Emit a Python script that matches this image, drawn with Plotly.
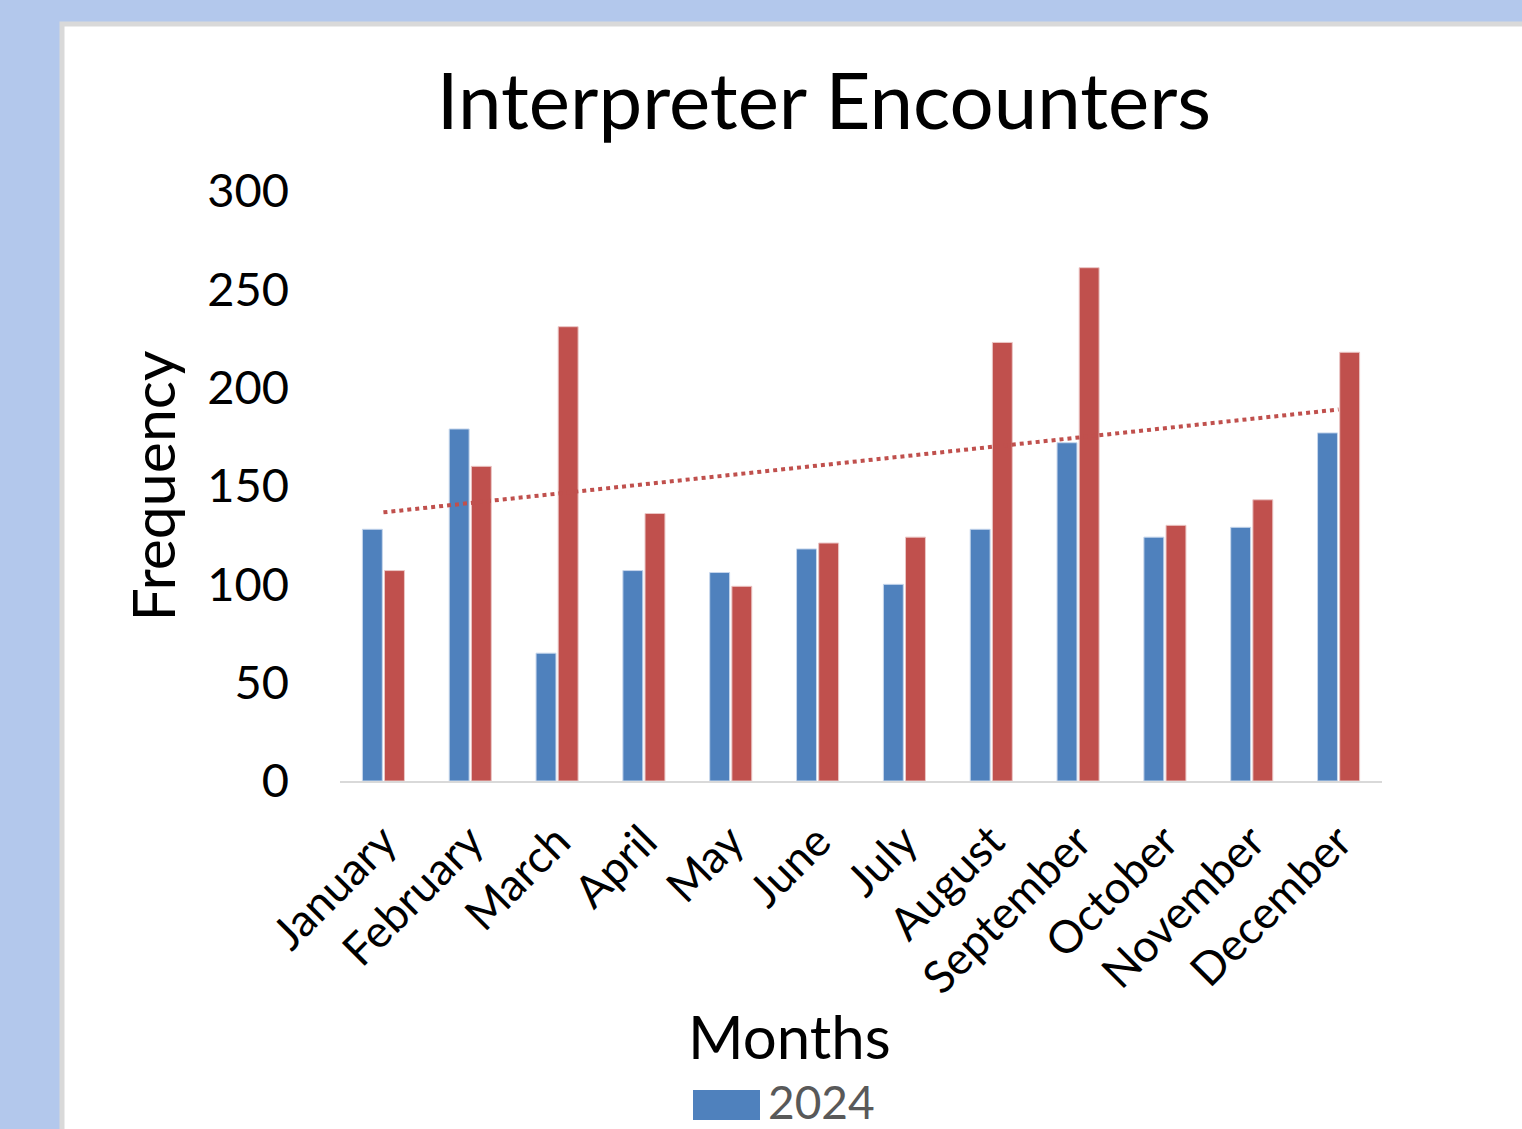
import plotly.graph_objects as go

MONTHS = ["January", "February", "March", "April", "May", "June",
          "July", "August", "September", "October", "November", "December"]
SERIES_2024 = [128, 179, 65, 107, 106, 118, 100, 128, 172, 124, 129, 177]
SERIES_2025 = [107, 160, 231, 136, 99, 121, 124, 223, 261, 130, 143, 218]
# linear trend of the red series, read at January and December
TREND_ENDS = [136.6, 188.9]
Y_TICKS = [0, 50, 100, 150, 200, 250, 300]

BLUE = "#4F81BD"
RED = "#C0504D"
PAGE_BG = "#B3C8EC"
FONT = "Lato, Open Sans, sans-serif"

W, H = 1522, 1129
L, R, T, B = 340, 1382, 191, 781


def px_x(x):
    return (x - L) / (R - L)


def px_y(y):
    return (B - y) / (B - T)


fig = go.Figure()
fig.add_trace(go.Bar(x=MONTHS, y=SERIES_2024, name="2024", marker=dict(color=BLUE, line=dict(color="#C6D6EC", width=1)), showlegend=False))
fig.add_trace(go.Bar(x=MONTHS, y=SERIES_2025, name="2025", marker=dict(color=RED, line=dict(color="#EBC6C5", width=1)), showlegend=False))
fig.add_trace(go.Scatter(x=[MONTHS[0], MONTHS[-1]], y=TREND_ENDS, mode="lines", line=dict(color=RED, width=4, dash="dot"), showlegend=False))

# white chart panel with grey border on the blue page
fig.add_shape(type="rect", xref="paper", yref="paper", x0=px_x(62), x1=px_x(1535), y0=px_y(1140), y1=px_y(24),
              fillcolor="white", line=dict(color="#D9D9D9", width=5), layer="below")
# legend entry (cut off at bottom)
fig.add_shape(type="rect", xref="paper", yref="paper", x0=px_x(693), x1=px_x(760), y0=px_y(1120), y1=px_y(1090),
              fillcolor=BLUE, line=dict(width=0))
fig.add_annotation(text="2024", xref="paper", yref="paper", x=px_x(766), y=px_y(1101), xanchor="left", yanchor="middle",
                   showarrow=False, font=dict(family=FONT, size=46, color="#595959"))
fig.add_annotation(text="Months", xref="paper", yref="paper", x=px_x(789), y=px_y(1036), xanchor="center", yanchor="middle",
                   showarrow=False, font=dict(family=FONT, size=60, color="black"))

fig.update_layout(
    width=W, height=H,
    paper_bgcolor=PAGE_BG, plot_bgcolor="rgba(0,0,0,0)",
    margin=dict(l=L, r=W - R, t=T, b=H - B),
    barmode="group", bargap=0.49, bargroupgap=0.1,
    font=dict(family=FONT, color="black"),
    title=dict(text="Interpreter Encounters", x=px_x(824), xref="paper", xanchor="center",
               y=1 - 102 / H, yanchor="middle", font=dict(size=78, color="black")),
)
fig.update_xaxes(showline=True, linecolor="#D9D9D9", linewidth=2, showgrid=False, ticks="",
                 tickangle=-45, tickfont=dict(size=45), ticklabelstandoff=14)
fig.update_yaxes(range=[0, 300], tickvals=Y_TICKS, showgrid=False, zeroline=False, showline=False, ticks="",
                 tickfont=dict(size=47), ticklabelstandoff=50,
                 title=dict(text="Frequency", font=dict(size=59), standoff=12))

fig.write_html("out.html", config={"displayModeBar": False},
               post_script="document.body.style.margin='0';document.body.style.overflow='hidden';")
